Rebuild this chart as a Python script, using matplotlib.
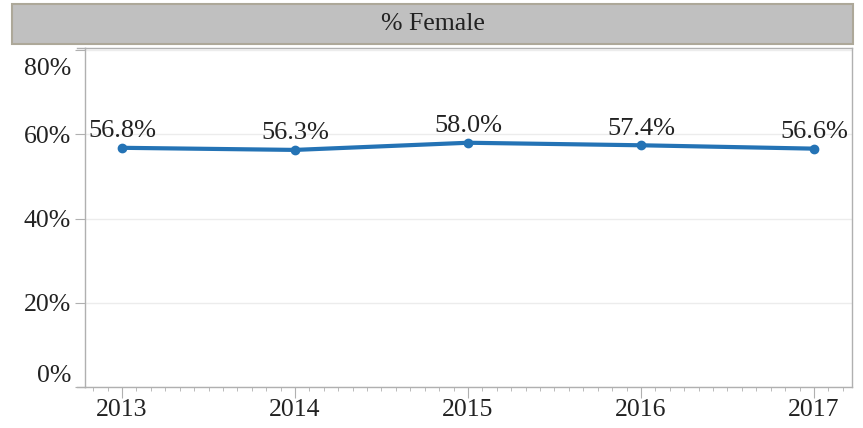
import matplotlib.pyplot as plt
import matplotlib.transforms as mtransforms
import numpy as np
from matplotlib.patches import Rectangle
from matplotlib.ticker import FixedLocator, FuncFormatter

years = [2013, 2014, 2015, 2016, 2017]
pct_female = [56.8, 56.3, 58.0, 57.4, 56.6]
y_ticks = [0, 20, 40, 60, 80]
title = "% Female"

plt.rcParams['font.family'] = ['Liberation Serif', 'DejaVu Serif']

W, H = 863, 428
fig = plt.figure(figsize=(W / 100, H / 100), dpi=100)
ax = fig.add_axes([85 / W, 1 - 387 / H, (852 - 85) / W, (387 - 48) / H])

# header band
fig.patches.append(Rectangle((12 / W, 1 - 44 / H), (853 - 12) / W, 40 / H,
                             transform=fig.transFigure, facecolor='#c0c0c0',
                             edgecolor='#ada899', linewidth=1.5))
fig.text((12 + 853) / 2 / W, 1 - 24 / H, title, ha='center', va='center',
         fontsize=18.5, color='#222222')

blue = '#2473b5'
ax.plot(years, pct_female, color=blue, linewidth=3, marker='o', markersize=6,
        zorder=3)
for x, v in zip(years, pct_female):
    ax.annotate(f"{v:.1f}%", (x, v), xytext=(0, 4), textcoords='offset points',
                ha='center', va='bottom', fontsize=19, color='#222222')

ax.set_xlim(2012.786, 2017.22)
ax.set_ylim(0, 80.5)

ax.set_yticks(y_ticks)
ax.yaxis.set_major_formatter(FuncFormatter(lambda v, p: f"{v:.0f}%"))
ax.set_xticks(years)
ax.set_xticklabels([str(y) for y in years])
minor = np.arange(2012 + 10 / 12, 2017.22, 1 / 12)
ax.xaxis.set_minor_locator(FixedLocator(minor))

ax.grid(axis='y', color='#ececec', linewidth=1, zorder=0)
for s in ax.spines.values():
    s.set_color('#b0b0b0')
    s.set_linewidth(1)

ax.tick_params(axis='y', length=7, color='#b0b0b0', labelsize=18.5,
               labelcolor='#222222', pad=3)
ax.tick_params(axis='x', which='major', length=8, color='#b0b0b0',
               labelsize=18.5, labelcolor='#222222', pad=1)
ax.tick_params(axis='x', which='minor', length=3, color='#b0b0b0')

# end labels are pulled inside the plot area
for lbl, v in zip(ax.get_yticklabels(), y_ticks):
    if v == 0:
        lbl.set_transform(lbl.get_transform() + mtransforms.ScaledTranslation(0, 0.13, fig.dpi_scale_trans))
    elif v == 80:
        lbl.set_transform(lbl.get_transform() + mtransforms.ScaledTranslation(0, -0.16, fig.dpi_scale_trans))

# extend top and bottom border lines a bit to the left
ax.plot([-0.01, 0], [1, 1], transform=ax.transAxes, color='#b0b0b0',
        linewidth=1, clip_on=False)
ax.plot([-0.01, 0], [0, 0], transform=ax.transAxes, color='#b0b0b0',
        linewidth=1, clip_on=False)

fig.savefig("out.png", dpi=100)
